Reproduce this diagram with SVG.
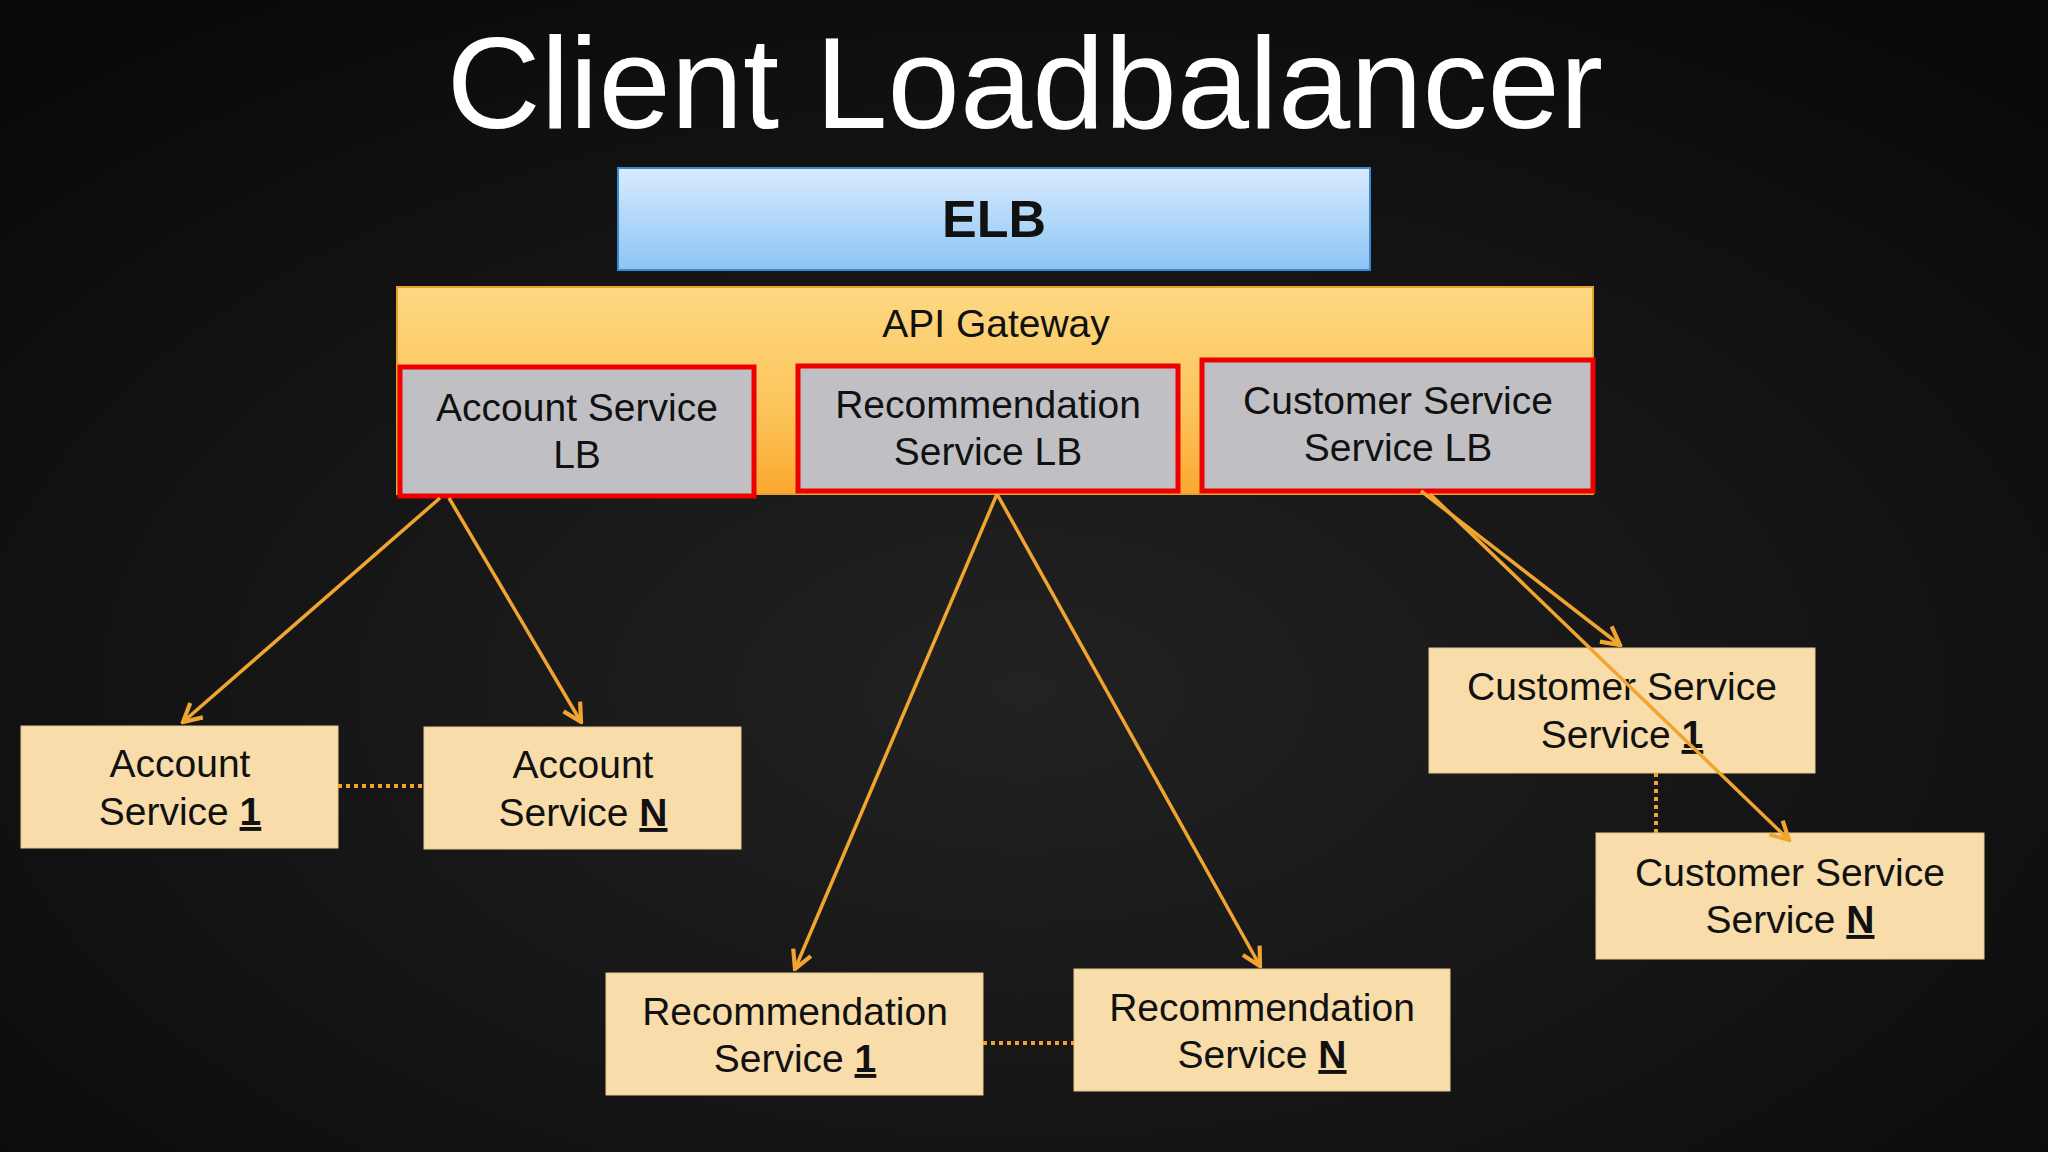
<svg xmlns="http://www.w3.org/2000/svg" width="2048" height="1152" viewBox="0 0 2048 1152">
<defs>
<radialGradient id="bg" cx="0.5" cy="0.6" r="0.7"><stop offset="0" stop-color="#222"/><stop offset="1" stop-color="#0a0a0a"/></radialGradient>
<linearGradient id="elb" x1="0" y1="0" x2="0" y2="1"><stop offset="0" stop-color="#d8ebff"/><stop offset="1" stop-color="#8cc4f4"/></linearGradient>
<linearGradient id="api" x1="0" y1="0" x2="0" y2="1"><stop offset="0" stop-color="#fdd882"/><stop offset="0.6" stop-color="#fcc45a"/><stop offset="1" stop-color="#fba830"/></linearGradient>
<marker id="ah" viewBox="0 0 20 20" refX="18" refY="10" markerWidth="24" markerHeight="24" orient="auto" markerUnits="userSpaceOnUse"><path d="M3,2 L18,10 L3,18" fill="none" stroke="#f0a530" stroke-width="3.5"/></marker>
<style>
text{font-family:"Liberation Sans",Arial,sans-serif;text-anchor:middle}
.lb{fill:#c0c0c4;stroke:#ee0000;stroke-width:5}
.svc{fill:#f8dcaa;stroke:#e8c890;stroke-width:1}
.t{font-size:39px;fill:#111}
.u{font-weight:bold;text-decoration:underline}
.c{stroke:#f0a530;stroke-width:3.5;fill:none;marker-end:url(#ah)}
.d{stroke:#f0a530;stroke-width:4;stroke-dasharray:4 4;fill:none}
</style>
</defs>
<rect width="2048" height="1152" fill="url(#bg)"/>
<text x="1025" y="128" font-size="130" fill="#fff">Client Loadbalancer</text>
<g id="elb"><rect x="618" y="168" width="752" height="102" fill="url(#elb)" stroke="#3a8ad0" stroke-width="2"/><text x="994" y="237" font-size="52" font-weight="bold" fill="#111">ELB</text></g>
<g id="api"><rect x="397" y="287" width="1196" height="207" fill="url(#api)" stroke="#e8a030" stroke-width="2"/><text x="996" y="337" class="t" font-size="41">API Gateway</text></g>
<g id="acclb"><rect class="lb" x="400" y="367" width="354" height="129"/><text class="t" x="577" y="421">Account Service</text><text class="t" x="577" y="468">LB</text></g>
<g id="reclb"><rect class="lb" x="798" y="366" width="380" height="125"/><text class="t" x="988" y="418">Recommendation</text><text class="t" x="988" y="465">Service LB</text></g>
<g id="custlb"><rect class="lb" x="1202" y="360" width="391" height="131"/><text class="t" x="1398" y="414">Customer Service</text><text class="t" x="1398" y="461">Service LB</text></g>
<g id="acc1"><rect class="svc" x="21" y="726" width="317" height="122"/><text class="t" x="180" y="777">Account</text><text class="t" x="180" y="825">Service <tspan class="u">1</tspan></text></g>
<g id="accn"><rect class="svc" x="424" y="727" width="317" height="122"/><text class="t" x="583" y="778">Account</text><text class="t" x="583" y="826">Service <tspan class="u">N</tspan></text></g>
<g id="rec1"><rect class="svc" x="606" y="973" width="377" height="122"/><text class="t" x="795" y="1025">Recommendation</text><text class="t" x="795" y="1072">Service <tspan class="u">1</tspan></text></g>
<g id="recn"><rect class="svc" x="1074" y="969" width="376" height="122"/><text class="t" x="1262" y="1021">Recommendation</text><text class="t" x="1262" y="1068">Service <tspan class="u">N</tspan></text></g>
<g id="cust1"><rect class="svc" x="1429" y="648" width="386" height="125"/><text class="t" x="1622" y="700">Customer Service</text><text class="t" x="1622" y="748">Service <tspan class="u">1</tspan></text></g>
<g id="custn"><rect class="svc" x="1596" y="833" width="388" height="126"/><text class="t" x="1790" y="886">Customer Service</text><text class="t" x="1790" y="933">Service <tspan class="u">N</tspan></text></g>
<g id="connectors">
<line class="c" x1="440" y1="498" x2="183" y2="722"/>
<line class="c" x1="449" y1="498" x2="581" y2="722"/>
<line class="c" x1="997" y1="494" x2="795" y2="969"/>
<line class="c" x1="997" y1="494" x2="1260" y2="966"/>
<line class="c" x1="1421" y1="491" x2="1620" y2="645"/>
<line class="c" x1="1430" y1="494" x2="1789" y2="840"/>
<line class="d" x1="338" y1="786" x2="424" y2="786"/>
<line class="d" x1="983" y1="1043" x2="1074" y2="1043"/>
<line class="d" x1="1656" y1="773" x2="1656" y2="833"/>
</g>
</svg>
